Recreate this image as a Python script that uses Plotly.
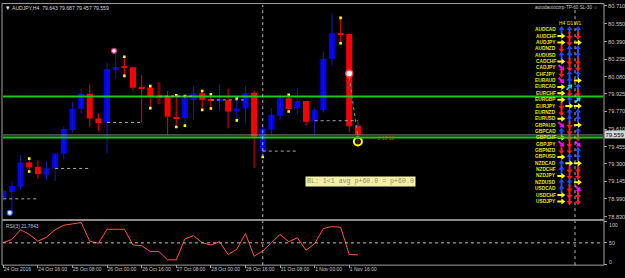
import math
import plotly.graph_objects as go

# ---------------- data ----------------
time_tick_bars = [0, 4, 8, 12, 16, 20, 24, 28, 32, 36, 40]
time_labels = ["24 Oct 2016", "24 Oct 16:00", "25 Oct 08:00", "26 Oct 00:00", "26 Oct 16:00",
               "27 Oct 08:00", "28 Oct 00:00", "28 Oct 16:00", "31 Oct 08:00", "1 Nov 00:00", "1 Nov 16:00"]

opens = [78.989, 79.051, 79.097, 79.313, 79.274, 79.207, 79.260, 79.392, 79.604, 79.792,
         79.927, 79.706, 79.671, 80.136, 80.165, 80.163, 79.986, 79.980, 79.905, 79.901,
         79.716, 79.710, 79.872, 79.931, 79.872, 79.863, 79.869, 79.768, 79.795, 79.936,
         79.415, 79.607, 79.730, 79.887, 79.795, 79.863, 79.686, 79.781, 80.240, 80.462,
         80.460, 79.642]
highs = [79.077, 79.142, 79.377, 79.340, 79.333, 79.324, 79.392, 79.633, 79.854, 79.966,
         80.010, 79.751, 80.207, 80.304, 80.260, 80.163, 80.092, 79.995, 80.030, 79.951,
         79.913, 79.907, 79.995, 79.951, 79.922, 80.010, 79.971, 79.887, 79.995, 79.951,
         79.633, 79.798, 79.922, 79.922, 79.980, 79.863, 79.804, 80.304, 80.642, 80.604,
         80.466, 79.680]
lows = [78.971, 78.863, 79.068, 79.240, 79.168, 79.157, 79.150, 79.339, 79.583, 79.751,
        79.633, 79.592, 79.392, 80.060, 80.083, 79.957, 79.671, 79.795, 79.834, 79.554,
        79.627, 79.642, 79.695, 79.783, 79.795, 79.774, 79.618, 79.686, 79.671, 79.265,
        79.360, 79.563, 79.686, 79.768, 79.745, 79.642, 79.554, 79.759, 80.180, 80.377,
        79.583, 79.451]
closes = [79.060, 79.104, 79.313, 79.269, 79.210, 79.260, 79.392, 79.613, 79.792, 79.927,
          79.706, 79.666, 80.148, 80.165, 80.160, 79.980, 79.971, 79.901, 79.900, 79.721,
          79.712, 79.887, 79.931, 79.872, 79.869, 79.878, 79.768, 79.795, 79.931, 79.545,
          79.616, 79.739, 79.887, 79.789, 79.863, 79.677, 79.783, 80.240, 80.466, 80.458,
          79.636, 79.559]

rsi = [51, 58, 81, 70, 54, 63.5, 81, 91.5, 94.6, 97.7,
       54, 49, 82, 82, 82, 45, 43.4, 29.5, 29.5, 10,
       10, 59.7, 66.7, 50.4, 45, 52.7, 22.5, 35, 72, 18.6,
       31, 50.4, 70, 52.7, 62, 32.6, 48, 83.7, 88.4, 86.7,
       22.5, 21.7843]

# fractal-like yellow dots
dot_bars = [3, 3, 14, 14, 17, 17, 20, 20, 21, 21, 23, 23, 24, 24, 27, 27, 30, 33, 33, 39, 39]
dot_prices = [79.348, 79.233, 80.257, 80.086, 79.995, 79.798, 79.913, 79.630, 79.907, 79.642,
              79.951, 79.783, 79.922, 79.795, 79.884, 79.689, 79.362, 79.917, 79.768, 80.604, 80.377]

day_start_bars = [0, 6, 12, 18, 24, 30, 36]
level_lines = [79.902, 79.536]
bid = 79.559
week_sep_bar = 30
panel_sep_bar = 66.1

price_ticks = [80.710, 80.550, 80.390, 80.235, 80.080, 79.925, 79.770, 79.610, 79.455,
               79.300, 79.145, 78.990, 78.830]
rsi_ticks = [0, 50, 100]

# trade markers
buy_mark = (0.75, 78.865)
sell_mark = (12.8, 80.310)
open_mark = (40, 80.107)
tp_mark = (41, 79.501)

pairs = ["AUDCAD", "AUDCHF", "AUDJPY", "AUDNZD", "AUDUSD", "CADCHF", "CADJPY", "CHFJPY",
         "EURAUD", "EURCAD", "EURCHF", "EURGBP", "EURJPY", "EURNZD", "EURUSD", "GBPAUD",
         "GBPCAD", "GBPCHF", "GBPJPY", "GBPNZD", "GBPUSD", "NZDCAD", "NZDCHF", "NZDJPY",
         "NZDUSD", "USDCAD", "USDCHF", "USDJPY"]
sig_h4 = ["U", "R", "R", "D", "U", "R", "DR", "D", "DR", "R", "R", "R", "D", "D", "R", "DR",
          "U", "R", "DR", "D", "R", "U", "U", "R", "U", "U", "R", "R"]
sig_d1 = ["U", "D", "D", "U", "U", "D", "D", "U", "U", "UR", "D", "U", "R", "U", "U", "D",
          "D", "D", "D", "D", "U", "R", "D", "D", "U", "D", "D", "D"]
sig_w1 = ["U", "D", "R", "U", "U", "D", "D", "U", "R", "U", "D", "UR", "R", "U", "U", "R",
          "U", "D", "DR", "U", "U", "R", "D", "D", "R", "DR", "D", "D"]

# ---------------- layout helpers ----------------
W, H = 625, 278
def pxx(x): return x / W
def pxy(y): return 1 - y / H

X0, X1 = 3, 603
BAR_PX = 8.65
PRICE_PX = 113.3
xr = [-0.03, -0.03 + (X1 - X0) / BAR_PX]
def price_at(ypx): return 80.710 - (ypx - 4) / PRICE_PX
def bar_at(xpx): return xr[0] + (xpx - X0) / BAR_PX
yr = [price_at(219), price_at(3)]

FONT = "Liberation Sans"
GRAY = "#c8c8c8"

fig = go.Figure()
idx = list(range(len(opens)))

# wicks
bull_x, bull_y, bear_x, bear_y, dark_x, dark_y = [], [], [], [], [], []
for i, (o, h, l, c) in enumerate(zip(opens, highs, lows, closes)):
    if i == 18:
        dark_x += [i, i, None]; dark_y += [l, h, None]
    elif c > o:
        bull_x += [i, i, None]; bull_y += [l, h, None]
    else:
        bear_x += [i, i, None]; bear_y += [l, h, None]
fig.add_trace(go.Scatter(x=bull_x, y=bull_y, mode="lines", line=dict(color="#1818b4", width=1),
                         hoverinfo="skip", showlegend=False))
fig.add_trace(go.Scatter(x=bear_x, y=bear_y, mode="lines", line=dict(color="#e80000", width=1),
                         hoverinfo="skip", showlegend=False))
fig.add_trace(go.Scatter(x=dark_x, y=dark_y, mode="lines", line=dict(color="#7a0000", width=3),
                         hoverinfo="skip", showlegend=False))

# bodies
MINH = 0.011
bases, heights, cols = [], [], []
for o, c in zip(opens, closes):
    lo, hi = min(o, c), max(o, c)
    if hi - lo < MINH:
        mid = (o + c) / 2
        lo, hi = mid - MINH / 2, mid + MINH / 2
    bases.append(lo); heights.append(hi - lo)
    cols.append("#0000ff" if c > o else "#ff0000")
fig.add_trace(go.Bar(x=idx, y=heights, base=bases, width=0.69, marker=dict(color=cols, line=dict(width=0)),
                     hoverinfo="skip", showlegend=False))

# yellow dots
fig.add_trace(go.Scatter(x=dot_bars, y=dot_prices, mode="markers",
                         marker=dict(symbol="square", size=2.6, color="#ffff00", line=dict(width=0)),
                         hoverinfo="skip", showlegend=False))

# trade markers
fig.add_trace(go.Scatter(x=[buy_mark[0]], y=[buy_mark[1]], mode="markers",
                         marker=dict(symbol="circle", size=5, color="#e8f4ff", line=dict(color="#2a6cff", width=1.2)),
                         hoverinfo="skip", showlegend=False))
fig.add_trace(go.Scatter(x=[sell_mark[0]], y=[sell_mark[1]], mode="markers",
                         marker=dict(symbol="circle", size=5, color="#ffe8f0", line=dict(color="#e03060", width=1.2)),
                         hoverinfo="skip", showlegend=False))
fig.add_trace(go.Scatter(x=[open_mark[0], tp_mark[0]], y=[open_mark[1] - 0.035, tp_mark[1] + 0.035], mode="lines",
                         line=dict(color="#1fb5d0", width=1, dash="dot"), hoverinfo="skip", showlegend=False))
fig.add_trace(go.Scatter(x=[open_mark[0]], y=[open_mark[1]], mode="markers",
                         marker=dict(symbol="circle", size=7, color="#ffffff", line=dict(color="#ff4040", width=1.5)),
                         hoverinfo="skip", showlegend=False))
fig.add_trace(go.Scatter(x=[tp_mark[0]], y=[tp_mark[1]], mode="markers",
                         marker=dict(symbol="circle-open", size=8, color="#ffff00", line=dict(color="#ffff00", width=2)),
                         hoverinfo="skip", showlegend=False))

# indicator panel arrows: triangle head + short stem
arrow = {"U": (0, "#2448ff"), "D": (180, "#ff1c1c"), "R": (90, "#ffff00"),
         "DR": (135, "#ff00ff"), "UR": (45, "#18c8ff")}
col_x = [561.5, 569.5, 578]
hx, hy, sx, sy, angs, acol = [], [], [], [], [], []
for k in range(len(pairs)):
    yy = 28 + 6.43 * k
    for j, sig in enumerate([sig_h4[k], sig_d1[k], sig_w1[k]]):
        ang, colr = arrow[sig]
        dx, dy = math.sin(math.radians(ang)), -math.cos(math.radians(ang))
        hx.append(bar_at(col_x[j] + dx * 1.2)); hy.append(price_at(yy + dy * 1.2))
        sx.append(bar_at(col_x[j] - dx * 1.6)); sy.append(price_at(yy - dy * 1.6))
        angs.append(ang); acol.append(colr)
fig.add_trace(go.Scatter(x=sx, y=sy, mode="markers",
                         marker=dict(symbol="line-ns", size=3.6, angle=angs, color=acol,
                                     line=dict(width=2, color=acol)),
                         hoverinfo="skip", showlegend=False))
fig.add_trace(go.Scatter(x=hx, y=hy, mode="markers",
                         marker=dict(symbol="triangle-up", size=5.2, angle=angs, color=acol, line=dict(width=0)),
                         hoverinfo="skip", showlegend=False))

# RSI
fig.add_trace(go.Scatter(x=idx, y=rsi, mode="lines", line=dict(color="#ff5533", width=1),
                         xaxis="x2", yaxis="y2", hoverinfo="skip", showlegend=False))

shapes = []
shapes.append(dict(type="line", xref="x domain", yref="y", x0=0, x1=1, y0=bid, y1=bid,
                   line=dict(color="#8a8a8a", width=1), layer="above"))
for lv in level_lines:
    shapes.append(dict(type="line", xref="x domain", yref="y", x0=0, x1=1, y0=lv, y1=lv,
                       line=dict(color="#1cc81c", width=2), layer="above"))
for k, b in enumerate(day_start_bars):
    end = b + 4 if k < len(day_start_bars) - 1 else len(opens) - 1
    shapes.append(dict(type="line", xref="x", yref="y", x0=b, x1=end, y0=opens[b], y1=opens[b],
                       line=dict(color="#a8a8a8", width=1, dash="dot"), layer="above"))
for vb in [week_sep_bar, panel_sep_bar]:
    shapes.append(dict(type="line", xref="x", yref="paper", x0=vb, x1=vb,
                       y0=pxy(266), y1=pxy(3 if vb == week_sep_bar else 7),
                       line=dict(color="#b4b4b4", width=1, dash="dot"), layer="above"))
shapes.append(dict(type="line", xref="x2 domain", yref="y2", x0=0, x1=1, y0=50, y1=50,
                   line=dict(color="#c0c0c0", width=1, dash="dot"), layer="above"))
shapes.append(dict(type="rect", xref="paper", yref="paper", x0=pxx(2), x1=pxx(604), y0=pxy(266), y1=pxy(1.5),
                   line=dict(color="#a0a0a0", width=1), layer="above"))
shapes.append(dict(type="line", xref="paper", yref="paper", x0=pxx(2), x1=pxx(604), y0=pxy(220.5), y1=pxy(220.5),
                   line=dict(color="#8c8c8c", width=2), layer="above"))

annotations = []
annotations.append(dict(xref="paper", yref="paper", x=pxx(3.5), y=pxy(6), xanchor="left", yanchor="middle",
                        text="▾", showarrow=False, font=dict(family="DejaVu Sans", size=7, color="#e0e0e0")))
annotations.append(dict(xref="paper", yref="paper", x=pxx(10), y=pxy(6), xanchor="left", yanchor="middle",
                        text="AUDJPY,H4  79.643 79.687 79.457 79.559", showarrow=False,
                        font=dict(family=FONT, size=5.1, color="#d8d8d8")))
annotations.append(dict(xref="paper", yref="paper", x=pxx(600), y=pxy(6), xanchor="right", yanchor="middle",
                        text="autodautocorp-TP-60 SL-30 ☺", showarrow=False,
                        font=dict(family=FONT, size=4.6, color="#c8c8c8")))
annotations.append(dict(xref="paper", yref="paper", x=pxx(4), y=pxy(226.5), xanchor="left", yanchor="middle",
                        text="RSI(3) 21.7843", showarrow=False, font=dict(family=FONT, size=4.8, color="#c8c8c8")))
annotations.append(dict(xref="x", yref="y", x=34.9, y=price_at(181), xanchor="left", yanchor="middle",
                        text="BL: 1<1 avg p+60.0 = p+60.0", showarrow=False, bgcolor="#f4f0a6",
                        borderpad=1, font=dict(family="Liberation Mono", size=6.6, color="#8c8c6c")))
annotations.append(dict(xref="x", yref="y", x=41.9, y=price_at(137.7), xanchor="left", yanchor="middle",
                        text="<--- 3:18:18", showarrow=False, font=dict(family=FONT, size=5, color="#b06010")))
annotations.append(dict(xref="paper", yref="y", x=pxx(604), y=bid, xanchor="left", yanchor="middle",
                        text="79.559", showarrow=False, bgcolor="#d4d4d4", borderpad=0.5,
                        font=dict(family=FONT, size=6, color="#000000")))
for v, ysh in zip(rsi_ticks, [2.5, 0, -3]):
    annotations.append(dict(xref="paper", yref="y2", x=pxx(607), y=v, yshift=ysh, xanchor="left",
                            yanchor="middle", text=str(v), showarrow=False,
                            font=dict(family=FONT, size=5.2, color=GRAY)))

for j, hdr in enumerate(["H4", "D1", "W1"]):
    annotations.append(dict(xref="paper", yref="paper", x=pxx(col_x[j]), y=pxy(21.5), xanchor="center",
                            yanchor="middle", text=hdr, showarrow=False,
                            font=dict(family=FONT, size=4.8, color="#e6e600")))
for k, p in enumerate(pairs):
    yy = 28 + 6.43 * k
    annotations.append(dict(xref="paper", yref="paper", x=pxx(557.5), y=pxy(yy), xanchor="right",
                            yanchor="middle", text="<b>" + p + "</b>", showarrow=False,
                            font=dict(family=FONT, size=4.8, color="#e6e600")))

fig.update_layout(
    width=W, height=H, margin=dict(l=0, r=0, t=0, b=0),
    paper_bgcolor="#000000", plot_bgcolor="#000000",
    barmode="overlay", showlegend=False,
    shapes=shapes, annotations=annotations,
    xaxis=dict(domain=[pxx(X0), pxx(X1)], range=xr, anchor="y", showticklabels=False,
               showgrid=False, zeroline=False, showline=False, ticks=""),
    yaxis=dict(domain=[pxy(219), pxy(3)], range=yr, anchor="x", side="right",
               tickvals=price_ticks, ticktext=["%.3f" % v for v in price_ticks],
               ticks="outside", ticklen=3, tickcolor="#a0a0a0",
               tickfont=dict(family=FONT, size=5.6, color=GRAY),
               showgrid=False, zeroline=False, showline=False),
    xaxis2=dict(domain=[pxx(X0), pxx(X1)], range=xr, anchor="y2",
                tickvals=time_tick_bars, ticktext=time_labels, ticks="outside", ticklen=3,
                tickcolor="#a0a0a0", ticklabelposition="outside right", tickangle=0,
                tickfont=dict(family=FONT, size=5, color=GRAY),
                showgrid=False, zeroline=False, showline=False),
    yaxis2=dict(domain=[pxy(265), pxy(222)], range=[0, 100], anchor="x2", side="right",
                tickvals=rsi_ticks, showticklabels=False, ticks="outside", ticklen=3,
                tickcolor="#a0a0a0", showgrid=False, zeroline=False, showline=False),
)

fig.write_html("out.html")
